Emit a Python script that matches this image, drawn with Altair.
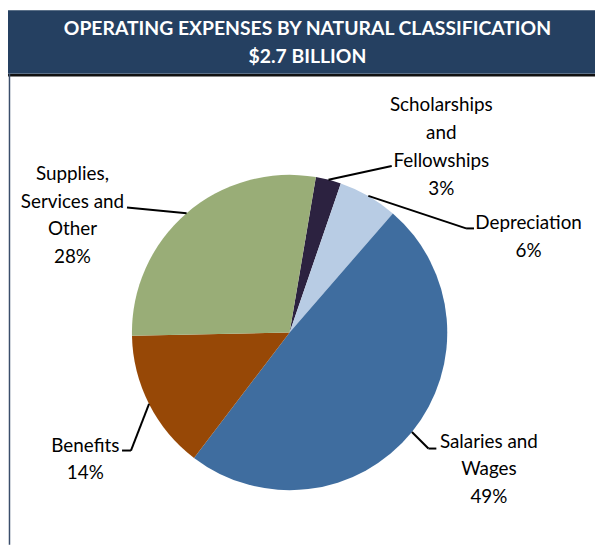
import math
import altair as alt
import pandas as pd

# ---------------- data ----------------
categories = [
    "Scholarships and Fellowships",
    "Depreciation",
    "Salaries and Wages",
    "Benefits",
    "Supplies, Services and Other",
]
shares = [2.6, 6.1, 49.0, 14.3, 28.0]
label_lines = [
    ["Scholarships", "and", "Fellowships"],
    ["Depreciation"],
    ["Salaries and", "Wages"],
    ["Benefits"],
    ["Supplies,", "Services and", "Other"],
]
title_lines = ["OPERATING EXPENSES BY NATURAL CLASSIFICATION", "$2.7 BILLION"]

# ---------------- styles / layout ----------------
colors = ["#2C2240", "#B8CCE4", "#3F6D9F", "#974806", "#99AD77"]
W, H = 592, 539
CX, CY, R = 284, 325, 159
START = math.radians(9.6)
HEADER_H = 64
LINE_H = 28
FONT = "Lato"
label_pos = [(437, 96), (525, 215), (485, 435), (78, 439), (65, 165)]
elbow = [(387, 157), (462, 220), (424, 442), (124, 444), (120, 199)]
tail = [(387, 157), (470, 220), (432, 442), (115, 444), (120, 199)]

# ---------------- tables ----------------
total = sum(shares)
pie_df = pd.DataFrame({"category": categories, "share": shares, "idx": range(len(categories))})

cum = 0.0
seg_rows = []
text_rows = []
for i, (cat, v) in enumerate(zip(categories, shares)):
    mid = START + 2 * math.pi * (cum + v / 2) / total
    cum += v
    sx = CX + R * math.sin(mid)
    sy = CY - R * math.cos(mid)
    seg_rows.append({"x": sx, "y": sy, "x2": elbow[i][0], "y2": elbow[i][1]})
    seg_rows.append({"x": elbow[i][0], "y": elbow[i][1], "x2": tail[i][0], "y2": tail[i][1]})
    lines = label_lines[i] + [f"{round(v)}%"]
    for j, t in enumerate(lines):
        text_rows.append({"x": label_pos[i][0], "y": label_pos[i][1] + j * LINE_H, "t": t})
seg_df = pd.DataFrame(seg_rows)
text_df = pd.DataFrame(text_rows)
title_df = pd.DataFrame({"t": title_lines, "y": [19, 47]})

# ---------------- layers ----------------
header = alt.Chart(pd.DataFrame({"a": [0]})).mark_rect(color="#254061").encode(
    x=alt.value(0), x2=alt.value(W), y=alt.value(0), y2=alt.value(HEADER_H)
)
header_line = alt.Chart(pd.DataFrame({"a": [0]})).mark_rule(color="#111111", strokeWidth=2.5).encode(
    x=alt.value(0), x2=alt.value(W), y=alt.value(HEADER_H + 1.5)
)
left_border = alt.Chart(pd.DataFrame({"a": [0]})).mark_rule(color="#3B4E6B", strokeWidth=1.5).encode(
    x=alt.value(1.5), y=alt.value(HEADER_H), y2=alt.value(H)
)
title = alt.Chart(title_df).mark_text(
    font=FONT, fontSize=19.5, fontWeight="bold", color="white", align="center", baseline="middle"
).encode(
    x=alt.value(302), y=alt.Y("y:Q", scale=None), text="t:N"
)

pie = alt.Chart(pie_df).mark_arc(outerRadius=R, stroke=None).encode(
    theta=alt.Theta("share:Q", stack=True, scale=alt.Scale(range=[START, START + 2 * math.pi])),
    color=alt.Color("category:N", scale=alt.Scale(domain=categories, range=colors), legend=None),
    order=alt.Order("idx:Q"),
    x=alt.value(CX),
    y=alt.value(CY),
)

leaders = alt.Chart(seg_df).mark_rule(color="black", strokeWidth=2).encode(
    x=alt.X("x:Q", scale=None), y=alt.Y("y:Q", scale=None),
    x2="x2:Q", y2="y2:Q",
)

labels = alt.Chart(text_df).mark_text(
    font=FONT, fontSize=19, color="black", align="center", baseline="middle"
).encode(
    x=alt.X("x:Q", scale=None), y=alt.Y("y:Q", scale=None), text="t:N"
)

chart = alt.layer(header, header_line, left_border, title, pie, leaders, labels).properties(
    width=W, height=H, padding=0, autosize=alt.AutoSizeParams(type="none")
).configure_view(stroke=None)

chart.save("out.html", embed_options={"renderer": "svg", "actions": False})
